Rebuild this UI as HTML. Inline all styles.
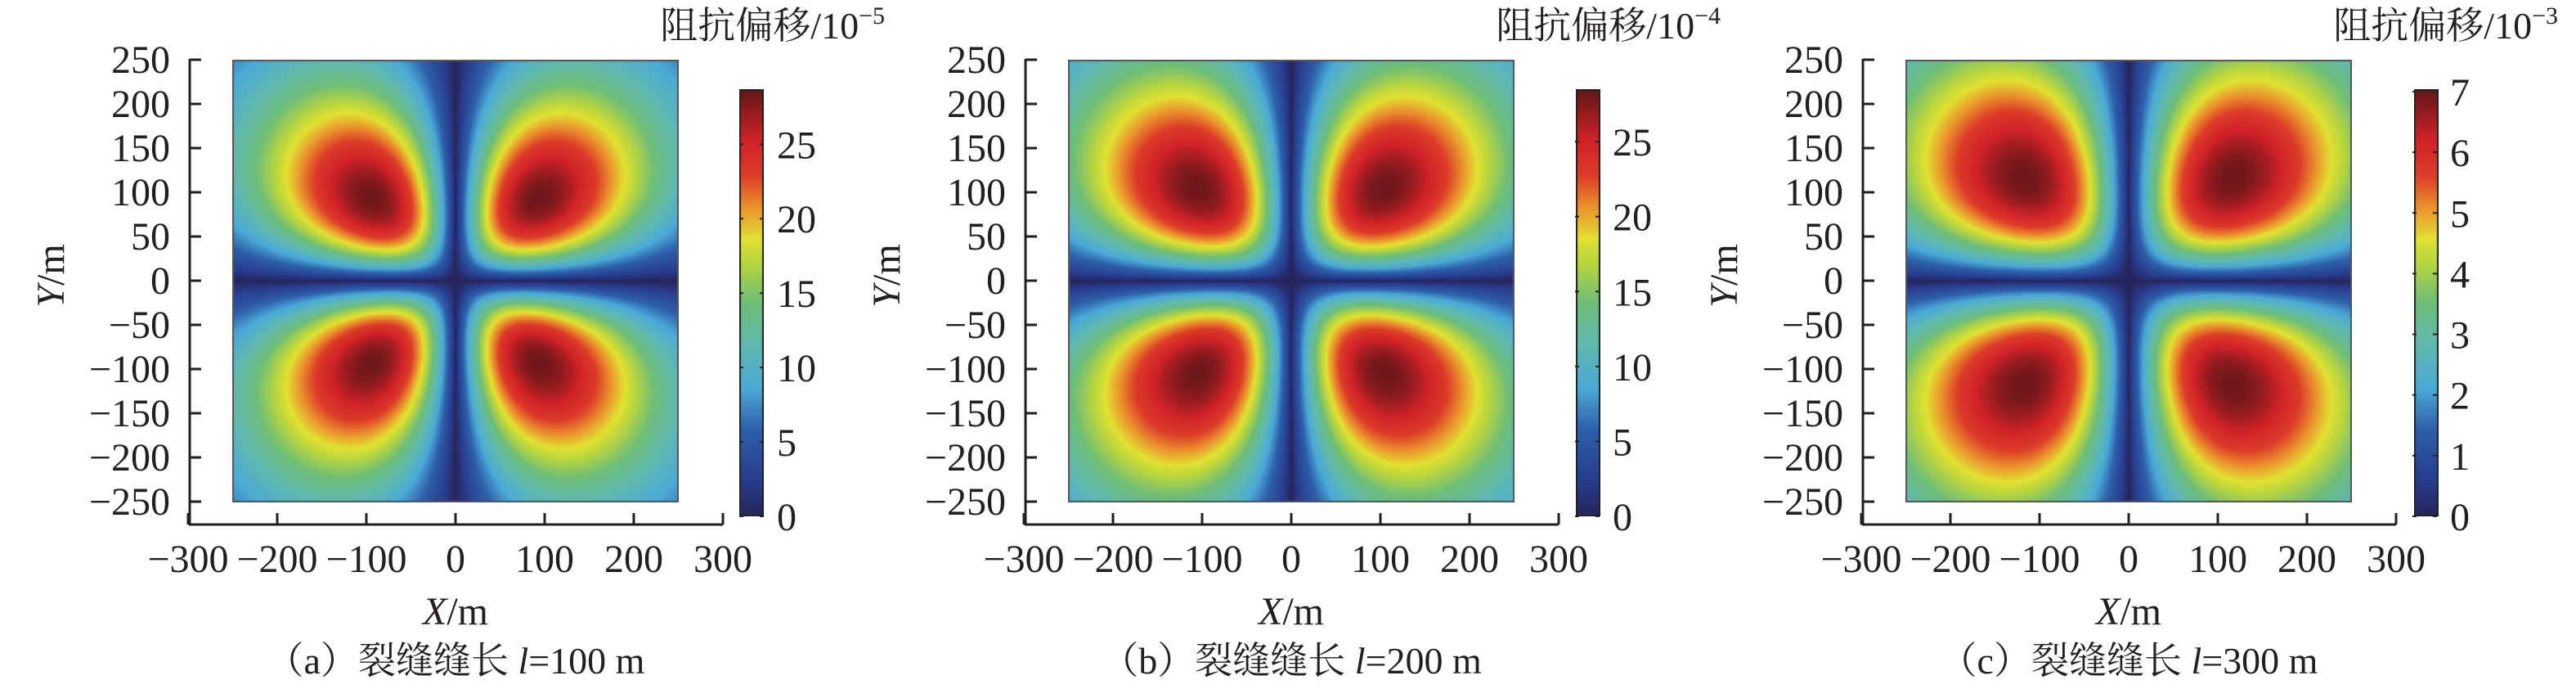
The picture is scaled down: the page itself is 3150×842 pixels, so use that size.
<!DOCTYPE html>
<html><head><meta charset="utf-8">
<style>
html,body{margin:0;padding:0;background:#fff;}
#wrap{position:relative;width:3150px;height:842px;overflow:hidden;background:#fff;}
canvas{position:absolute;}
svg{position:absolute;left:0;top:0;}
text{font-family:"Liberation Serif","Noto Serif CJK SC",serif;fill:#231f20;}
</style></head>
<body>
<div id="wrap">
<canvas id="h0" width="546" height="541" style="left:284px;top:73px"></canvas>
<canvas id="h1" width="546" height="541" style="left:1306px;top:73px"></canvas>
<canvas id="h2" width="546" height="541" style="left:2330px;top:73px"></canvas>
<canvas id="c0" width="30" height="522" style="left:904px;top:109px"></canvas>
<canvas id="c1" width="30" height="522" style="left:1927px;top:109px"></canvas>
<canvas id="c2" width="30" height="522" style="left:2952px;top:109px"></canvas>
<svg id="s" width="3150" height="842" xmlns="http://www.w3.org/2000/svg"></svg>
</div>
<script>
var stops=[[0,38,36,90],[0.08,40,60,140],[0.2,45,95,170],[0.3,75,170,215],[0.4,95,185,175],[0.5,110,190,120],[0.6,190,215,60],[0.65,225,225,50],[0.72,235,150,45],[0.8,220,60,40],[0.88,210,35,40],[1,100,22,25]];
function cmap(t){if(t<0)t=0;if(t>1)t=1;for(var i=1;i<stops.length;i++){if(t<=stops[i][0]){var a=stops[i-1],b=stops[i],f=(t-a[0])/(b[0]-a[0]);return [a[1]+(b[1]-a[1])*f,a[2]+(b[2]-a[2])*f,a[3]+(b[3]-a[3])*f];}}return [100,22,25];}
var panels=[{off:0,r0:133,q:0.9,po:2.0,max:28.7,ticks:[0,5,10,15,20,25],exp:"−5"},
{off:1022,r0:149,q:0.85,po:2.2,max:28.5,ticks:[0,5,10,15,20,25],exp:"−4"},
{off:2046,r0:167,q:0.85,po:2.5,max:7.04,ticks:[0,1,2,3,4,5,6,7],exp:"−3"}];
panels.forEach(function(p,k){
 var c=document.getElementById('h'+k).getContext('2d');var W=546,H=541;var im=c.createImageData(W,H);
 for(var j=0;j<H;j++){var y=250-j*500/(H-1);for(var i=0;i<W;i++){var x=-250+i*500/(W-1);
  var r2=x*x+y*y+1e-6,r=Math.sqrt(r2);var A=Math.pow(2*Math.abs(x*y)/r2,p.q);var u=r/p.r0;var F;
  if(u<1)F=u*u*Math.exp(2*(1-u));else F=Math.pow(u*Math.exp(1-u),p.po);
  var v=A*F*0.99;var col=cmap(v);var o=(j*W+i)*4;im.data[o]=col[0];im.data[o+1]=col[1];im.data[o+2]=col[2];im.data[o+3]=255;}}
 c.putImageData(im,0,0);c.strokeStyle="#555";c.lineWidth=2;c.strokeRect(1,1,W-2,H-2);
 var cb=document.getElementById('c'+k).getContext('2d');
 for(var j=0;j<522;j++){var col=cmap(1-j/521);cb.fillStyle="rgb("+(col[0]|0)+","+(col[1]|0)+","+(col[2]|0)+")";cb.fillRect(0,j,30,1);}
 cb.strokeStyle="#222";cb.lineWidth=2;cb.strokeRect(1,1,28,520);
});
var s='';
panels.forEach(function(p,k){var o=p.off;var ax=232+o;
 s+='<line x1="'+ax+'" y1="72" x2="'+ax+'" y2="642" stroke="#231f20" stroke-width="3"/>';
 s+='<line x1="'+(ax-1)+'" y1="641" x2="'+(884+o)+'" y2="641" stroke="#231f20" stroke-width="3"/>';
 for(var v=-250;v<=250;v+=50){var y=343-v*1.08;s+='<line x1="'+ax+'" y1="'+y+'" x2="'+(ax+14)+'" y2="'+y+'" stroke="#231f20" stroke-width="3"/>';
  s+='<text x="'+(208+o)+'" y="'+(y+16)+'" font-size="48" text-anchor="end">'+(v<0?'−'+(-v):v)+'</text>';}
 for(var v=-300;v<=300;v+=100){var x=557+o+v*1.09;s+='<line x1="'+x+'" y1="641" x2="'+x+'" y2="627" stroke="#231f20" stroke-width="3"/>';
  s+='<text x="'+x+'" y="699" font-size="48" text-anchor="middle">'+(v<0?'−'+(-v):v)+'</text>';}
 s+='<text x="'+(557+o)+'" y="763" font-size="48" text-anchor="middle"><tspan font-style="italic">X</tspan>/m</text>';
 s+='<text transform="translate('+(78+o)+',337) rotate(-90)" font-size="48" text-anchor="middle"><tspan font-style="italic">Y</tspan>/m</text>';
 s+='<text x="'+(557+o)+'" y="823" font-size="46" text-anchor="middle">（'+'abc'[k]+'）裂缝缝长 <tspan font-style="italic">l</tspan>='+(100*(k+1))+' m</text>';
 var cx=904+o,sc=522/p.max;
 p.ticks.forEach(function(t){var y=631-t*sc;s+='<line x1="'+cx+'" y1="'+y+'" x2="'+(cx+5)+'" y2="'+y+'" stroke="#222" stroke-width="2"/><line x1="'+(cx+25)+'" y1="'+y+'" x2="'+(cx+30)+'" y2="'+y+'" stroke="#222" stroke-width="2"/>';
  s+='<text x="'+(950+o)+'" y="'+(y+17)+'" font-size="48">'+t+'</text>';});
 s+='<text x="'+(1082+o)+'" y="47" font-size="46" text-anchor="end">阻抗偏移/10<tspan font-size="30" dy="-18">'+p.exp+'</tspan></text>';
});
document.getElementById('s').innerHTML=s;
</script>
</body></html>
